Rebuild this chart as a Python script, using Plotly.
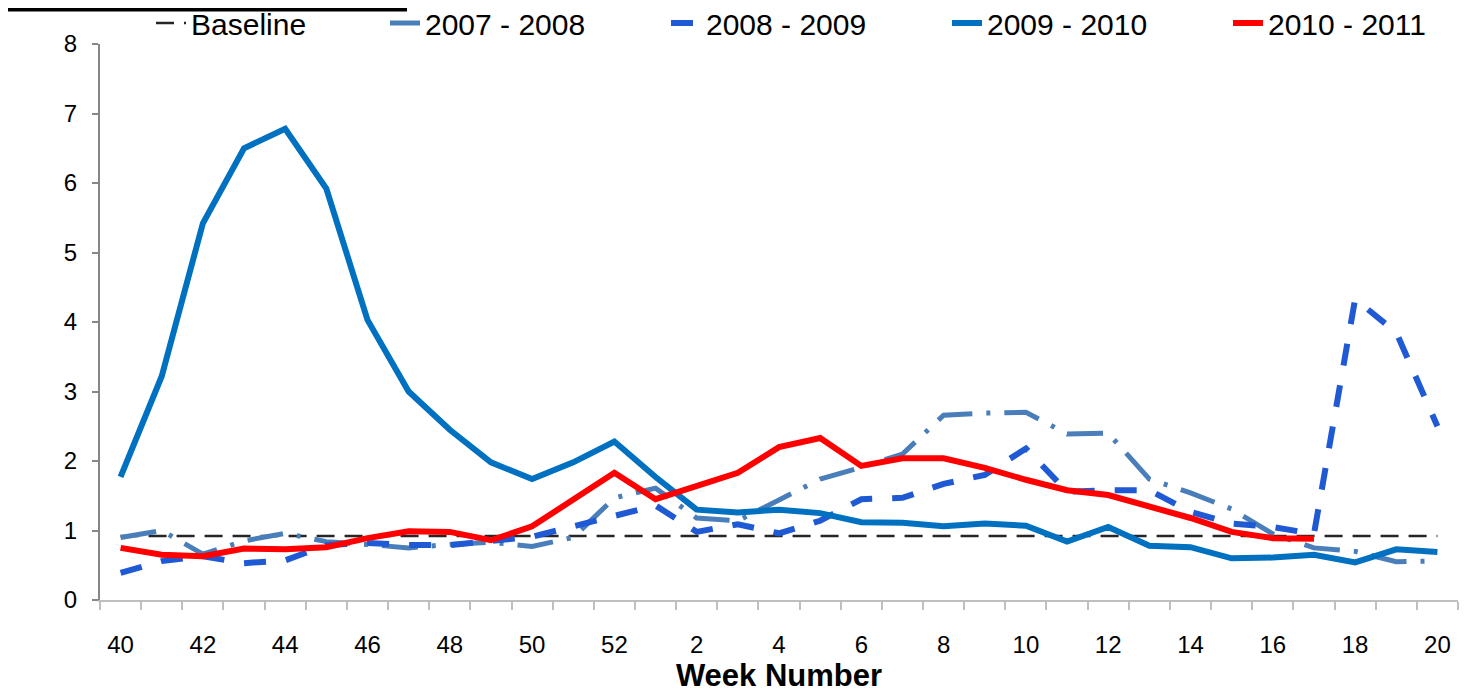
import plotly.graph_objects as go

weeks = [40, 41, 42, 43, 44, 45, 46, 47, 48, 49, 50, 51, 52,
         1, 2, 3, 4, 5, 6, 7, 8, 9, 10, 11, 12, 13, 14, 15, 16, 17, 18, 19, 20]

baseline = [0.92] * 33

s2007_2008 = [0.90, 1.00, 0.66, 0.85, 0.96, 0.84, 0.80, 0.75, 0.80, 0.83, 0.77, 0.90, 1.47,
              1.61, 1.18, 1.14, 1.44, 1.74, 1.91, 2.10, 2.66, 2.69, 2.70, 2.39, 2.40, 1.74,
              1.54, 1.31, 0.95, 0.75, 0.70, 0.55, 0.56]

s2008_2009 = [0.39, 0.56, 0.63, 0.53, 0.57, 0.79, 0.82, 0.79, 0.79, 0.86, 0.91, 1.06, 1.21,
              1.36, 0.98, 1.09, 0.96, 1.14, 1.45, 1.47, 1.67, 1.80, 2.18, 1.56, 1.58, 1.58,
              1.27, 1.10, 1.05, 0.95, 4.33, 3.85, 2.50]

s2009_2010 = [1.77, 3.22, 5.42, 6.50, 6.78, 5.92, 4.03, 3.00, 2.45, 1.98, 1.74, 1.98, 2.28,
              1.77, 1.30, 1.26, 1.30, 1.25, 1.12, 1.11, 1.06, 1.10, 1.07, 0.84, 1.05, 0.78,
              0.76, 0.60, 0.61, 0.65, 0.54, 0.73, 0.69]

s2010_2011 = [0.75, 0.65, 0.63, 0.74, 0.73, 0.76, 0.89, 0.99, 0.98, 0.86, 1.06, 1.44, 1.83,
              1.45, 1.63, 1.83, 2.20, 2.33, 1.93, 2.04, 2.04, 1.90, 1.73, 1.58, 1.51, 1.35,
              1.18, 0.98, 0.89, 0.88, None, None, None]

x = list(range(len(weeks)))
tick_idx = [i for i, w in enumerate(weeks) if w % 2 == 0]
tick_txt = [str(weeks[i]) for i in tick_idx]

FONT = "Liberation Sans, Arial, sans-serif"

W, H = 1463, 686
L, R, T, B = 92, 13, 36, 94
PW, PH = W - L - R, H - T - B

fig = go.Figure()
fig.add_trace(go.Scatter(x=x, y=baseline, mode="lines", name="Baseline",
                         line=dict(color="#262626", width=2.5, dash="18px,10px"),
                         legend="legend"))
fig.add_trace(go.Scatter(x=x, y=s2007_2008, mode="lines", name="2007 - 2008",
                         line=dict(color="#4A7EBB", width=5, dash="36px,14px,4px,14px"),
                         legend="legend2"))
fig.add_trace(go.Scatter(x=x, y=s2008_2009, mode="lines", name="2008 - 2009",
                         line=dict(color="#1F5AD4", width=6, dash="22px,20px"),
                         legend="legend2"))
fig.add_trace(go.Scatter(x=x, y=s2009_2010, mode="lines", name="2009 - 2010",
                         line=dict(color="#0070C0", width=6),
                         legend="legend2"))
fig.add_trace(go.Scatter(x=x, y=s2010_2011, mode="lines", name="2010 - 2011",
                         line=dict(color="#FF0000", width=6),
                         legend="legend2"))

leg_y = 1 + (T + 11) / PH

fig.update_layout(
    width=W, height=H,
    margin=dict(l=L, r=R, t=T, b=B, autoexpand=False),
    paper_bgcolor="white", plot_bgcolor="white",
    font=dict(family=FONT, color="black"),
    showlegend=True,
    legend=dict(orientation="h", xref="container", yref="paper",
                x=143 / W, y=leg_y, xanchor="left", yanchor="top",
                font=dict(size=30, family=FONT), bgcolor="rgba(0,0,0,0)"),
    legend2=dict(orientation="h", xref="container", yref="paper",
                 x=377 / W, y=leg_y, xanchor="left", yanchor="top",
                 entrywidth=236, entrywidthmode="pixels",
                 font=dict(size=30, family=FONT), bgcolor="rgba(0,0,0,0)"),
    xaxis=dict(
        range=[-0.5, len(weeks) - 0.5],
        tickmode="array", tickvals=tick_idx, ticktext=tick_txt,
        ticks="", ticklabelstandoff=22,
        tickfont=dict(size=24, family=FONT),
        showline=True, linecolor="#BFBFBF", linewidth=2,
        showgrid=False, zeroline=False,
        minor=dict(tickmode="linear", tick0=-0.5, dtick=1, ticks="outside",
                   ticklen=8, tickcolor="#BFBFBF", tickwidth=1.5, showgrid=False),
        title=dict(text="<b>Week Number</b>", font=dict(size=31, family=FONT), standoff=8),
    ),
    yaxis=dict(
        range=[0, 8], dtick=1, tick0=0,
        ticks="outside", ticklen=6, tickcolor="#868686", tickwidth=2,
        ticklabelstandoff=10,
        tickfont=dict(size=24, family=FONT),
        showline=True, linecolor="#868686", linewidth=2,
        showgrid=False, zeroline=False,
        title=dict(text="<b>% of Vists for ILI</b>", font=dict(size=31, family=FONT), standoff=18),
    ),
    shapes=[dict(type="rect", xref="paper", yref="paper",
                 x0=-L / PW, x1=(399 - L) / PW,
                 y0=(PH + T - 3.5) / PH, y1=(PH + T) / PH,
                 fillcolor="black", line=dict(width=0), layer="above")],
)

fig.write_html("out.html")
